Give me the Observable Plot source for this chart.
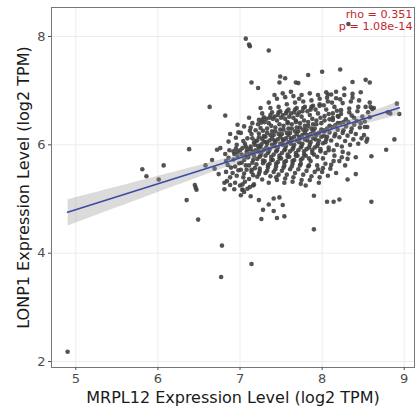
<!DOCTYPE html>
<html>
<head>
<meta charset="utf-8">
<script src="https://cdn.jsdelivr.net/npm/d3@7"></script>
<script src="https://cdn.jsdelivr.net/npm/@observablehq/plot@0.6"></script>
<style>
  html, body { margin: 0; padding: 0; background: white; }
</style>
</head>
<body>
<div id="chart"></div>
<script>
const xLabel = "MRPL12 Expression Level (log2 TPM)";
const yLabel = "LONP1 Expression Level (log2 TPM)";
const statLines = ["rho = 0.351", "p = 1.08e-14"];
const xTicks = [5, 6, 7, 8, 9];
const yTicks = [2, 4, 6, 8];

// MRPL12 (x) and LONP1 (y), grouped line by line
const mrpl12 = [
  4.90,5.81,5.86,6.01,6.07,6.38,6.35,6.45,6.46,6.47,6.49,6.58,6.63,6.78,6.77,
  7.14,6.82,7.07,7.11,7.12,7.35,7.14,7.22,7.49,7.55,7.48,7.68,7.71,7.83,8.00,
  8.22,8.37,8.53,8.58,8.32,8.91,8.94,8.88,8.78,8.60,8.60,8.55,8.41,8.31,8.21,
  8.14,8.06,7.90,7.90,7.54,7.45,7.26,7.28,7.35,7.41,7.48,7.52,7.41,7.23,7.13,
  7.03,7.05,7.09,7.16,7.00,6.81,6.74,6.69,6.66,6.72,6.76,6.88,6.97,7.12,7.23,
  8.61,8.63,8.80,8.83,8.52,8.58,
  6.81,6.83,6.85,6.86,6.88,6.82,6.87,6.84,6.89,6.86,6.83,6.88,
  6.91,6.92,6.93,6.94,6.95,6.96,6.97,6.98,6.99,6.92,6.94,6.96,6.98,6.93,6.97,6.95,
  7.01,7.02,7.03,7.04,7.05,7.06,7.07,7.08,7.09,7.01,7.03,7.05,7.07,7.09,7.02,7.04,7.06,7.08,7.00,7.05,7.03,7.07,7.09,7.01,
  7.11,7.12,7.13,7.14,7.15,7.16,7.17,7.18,7.19,7.11,7.13,7.15,7.17,7.19,7.12,7.14,7.16,7.18,7.10,7.15,7.13,7.17,7.19,7.11,7.14,7.16,
  7.21,7.22,7.23,7.24,7.25,7.26,7.27,7.28,7.29,7.21,7.23,7.25,7.27,7.29,7.22,7.24,7.26,7.28,7.20,7.25,7.23,7.27,7.29,7.21,7.24,7.26,7.22,7.28,7.25,7.27,7.23,7.29,
  7.31,7.32,7.33,7.34,7.35,7.36,7.37,7.38,7.39,7.31,7.33,7.35,7.37,7.39,7.32,7.34,7.36,7.38,7.30,7.35,7.33,7.37,7.39,7.31,7.34,7.36,7.32,7.38,7.35,7.37,7.33,7.39,7.30,7.36,
  7.41,7.42,7.43,7.44,7.45,7.46,7.47,7.48,7.49,7.41,7.43,7.45,7.47,7.49,7.42,7.44,7.46,7.48,7.40,7.45,7.43,7.47,7.49,7.41,7.44,7.46,7.42,7.48,7.45,7.47,7.43,7.49,7.40,7.46,7.44,7.42,
  7.51,7.52,7.53,7.54,7.55,7.56,7.57,7.58,7.59,7.51,7.53,7.55,7.57,7.59,7.52,7.54,7.56,7.58,7.50,7.55,7.53,7.57,7.59,7.51,7.54,7.56,7.52,7.58,7.55,7.57,7.53,7.59,7.50,7.56,7.54,7.52,7.58,7.51,
  7.61,7.62,7.63,7.64,7.65,7.66,7.67,7.68,7.69,7.61,7.63,7.65,7.67,7.69,7.62,7.64,7.66,7.68,7.60,7.65,7.63,7.67,7.69,7.61,7.64,7.66,7.62,7.68,7.65,7.67,7.63,7.69,7.60,7.66,7.64,7.62,7.68,7.61,
  7.71,7.72,7.73,7.74,7.75,7.76,7.77,7.78,7.79,7.71,7.73,7.75,7.77,7.79,7.72,7.74,7.76,7.78,7.70,7.75,7.73,7.77,7.79,7.71,7.74,7.76,7.72,7.78,7.75,7.77,7.73,7.79,7.70,7.76,7.74,7.72,
  7.81,7.82,7.83,7.84,7.85,7.86,7.87,7.88,7.89,7.81,7.83,7.85,7.87,7.89,7.82,7.84,7.86,7.88,7.80,7.85,7.83,7.87,7.89,7.81,7.84,7.86,7.82,7.88,7.85,7.87,7.83,7.89,7.80,7.86,
  7.91,7.92,7.93,7.94,7.95,7.96,7.97,7.98,7.99,7.91,7.93,7.95,7.97,7.99,7.92,7.94,7.96,7.98,7.90,7.95,7.93,7.97,7.99,7.91,7.94,7.96,7.92,7.98,7.95,7.97,
  8.01,8.02,8.03,8.04,8.05,8.06,8.07,8.08,8.09,8.01,8.03,8.05,8.07,8.09,8.02,8.04,8.06,8.08,8.00,8.05,8.03,8.07,8.09,8.01,8.04,8.06,8.02,8.08,
  8.11,8.12,8.13,8.14,8.15,8.16,8.17,8.18,8.19,8.11,8.13,8.15,8.17,8.19,8.12,8.14,8.16,8.18,8.10,8.15,8.13,8.17,8.19,8.11,
  8.21,8.22,8.23,8.24,8.25,8.26,8.27,8.28,8.29,8.21,8.23,8.25,8.27,8.29,8.22,8.24,8.26,8.28,8.20,8.25,
  8.31,8.32,8.33,8.34,8.35,8.36,8.37,8.38,8.39,8.31,8.33,8.35,8.37,8.39,8.32,8.36,
  8.41,8.42,8.43,8.44,8.45,8.46,8.47,8.48,8.49,8.41,8.44,8.47,
  8.51,8.52,8.53,8.55,8.56,8.58,8.59,8.54
];
const lonp1 = [
  2.18,5.55,5.42,5.36,5.62,5.92,4.98,5.26,5.21,5.17,4.62,5.62,6.70,4.14,3.56,
  3.80,6.54,7.96,7.85,7.82,7.74,7.15,7.05,7.26,7.23,7.15,7.15,7.14,7.29,7.35,
  7.39,7.16,7.20,7.15,8.23,6.76,6.57,6.10,5.91,5.79,4.95,6.11,5.46,5.36,4.99,
  4.95,4.95,5.06,4.44,4.68,4.65,4.63,4.80,4.90,5.01,5.03,4.89,4.78,4.98,5.05,
  5.17,5.13,5.19,5.25,5.25,5.30,5.46,5.56,5.72,5.91,5.94,6.20,6.37,6.26,6.46,
  6.66,6.68,6.60,6.58,6.33,6.51,
  5.18,5.50,5.63,5.76,5.40,5.83,5.90,5.33,5.58,6.06,5.70,5.26,
  5.48,5.73,5.83,5.60,5.93,5.43,5.78,6.23,5.66,5.88,5.30,6.00,5.53,5.18,5.86,6.13,
  5.54,5.82,5.94,5.40,5.72,6.02,5.62,5.87,6.12,6.22,5.27,5.47,5.97,5.77,5.67,6.07,5.32,5.54,5.90,6.34,5.17,5.80,5.92,5.07,
  5.62,5.84,5.97,5.50,6.12,5.72,6.04,5.57,6.27,5.37,5.92,6.40,5.80,5.90,5.22,6.20,5.44,6.00,5.77,5.67,6.32,5.27,6.07,6.50,5.54,5.87,
  5.74,5.98,6.14,5.56,6.31,5.86,6.46,5.66,6.06,5.41,6.21,5.81,6.58,5.91,6.38,5.51,6.01,6.26,5.64,6.68,5.94,5.36,6.16,6.08,5.78,6.41,5.88,5.71,5.96,6.11,5.46,6.51,
  5.80,6.05,6.22,5.62,6.40,5.92,6.55,5.72,6.12,5.48,6.30,5.88,6.68,6.00,6.48,5.58,6.08,6.35,5.70,6.78,6.02,5.42,6.25,6.15,5.85,6.50,5.95,5.78,5.30,6.18,5.52,6.60,6.42,5.65,
  5.82,6.08,6.25,5.65,6.45,5.95,6.60,5.75,6.15,5.50,6.32,5.90,6.70,6.02,6.52,5.60,6.10,6.38,5.72,6.85,6.05,5.45,6.28,6.18,5.88,6.55,5.98,5.80,5.35,6.20,5.55,6.62,6.48,5.68,5.40,6.92,
  5.85,6.10,6.28,5.68,6.48,5.98,6.62,5.78,6.18,5.52,6.35,5.92,6.75,6.05,6.55,5.62,6.12,6.40,5.75,6.88,6.08,5.45,6.30,6.20,5.90,6.58,6.00,5.82,5.38,6.22,5.58,6.65,6.50,5.70,5.30,6.95,6.42,6.02,
  5.88,6.12,6.30,5.70,6.50,6.00,6.65,5.80,6.20,5.55,6.38,5.95,6.78,6.08,6.58,5.65,6.15,6.42,5.78,6.90,6.10,5.48,6.32,6.22,5.92,6.60,6.02,5.85,5.40,6.25,5.60,6.68,6.52,5.72,5.32,6.98,6.45,6.05,
  5.90,6.15,6.32,5.72,6.52,6.02,6.68,5.82,6.22,5.55,6.40,5.98,6.80,6.10,6.60,5.65,6.18,6.45,5.80,6.92,6.12,5.45,6.35,6.25,5.95,6.62,6.05,5.88,5.35,6.28,5.62,6.70,6.55,5.75,5.28,6.85,
  5.92,6.18,6.35,5.75,6.55,6.05,6.70,5.85,6.25,5.52,6.42,6.00,6.82,6.12,6.62,5.62,6.20,6.48,5.80,6.95,6.15,5.42,6.38,6.28,5.95,6.65,6.08,5.90,5.35,6.30,5.60,6.72,5.25,5.70,
  5.95,6.20,6.38,5.78,6.58,6.08,6.72,5.88,6.28,5.50,6.45,6.02,6.85,6.15,6.65,5.62,6.22,6.50,5.82,6.92,6.18,5.40,6.40,6.30,5.98,5.30,6.10,5.92,5.55,6.75,
  6.03,6.27,6.45,5.85,6.65,6.15,6.80,5.95,6.35,5.57,6.53,6.10,6.93,6.23,6.73,5.65,6.30,6.57,5.50,6.97,6.25,5.43,6.47,5.75,6.05,6.87,6.17,5.90,
  6.08,6.33,6.50,5.90,6.70,6.20,6.86,6.00,6.40,5.63,6.58,6.16,6.98,6.28,6.78,5.70,6.36,6.63,5.56,5.80,6.46,5.48,6.53,6.93,
  6.14,6.40,6.57,5.97,6.77,6.27,6.92,6.07,6.47,5.70,6.64,6.22,7.04,6.34,6.84,5.77,6.42,5.62,6.52,5.87,
  6.17,6.42,6.60,6.00,6.80,6.30,6.94,6.10,6.50,5.74,6.67,6.24,6.87,6.37,5.84,6.54,
  6.20,6.44,6.62,6.02,6.82,6.32,6.97,6.12,6.52,5.77,6.70,6.40,
  6.18,6.43,6.70,6.33,6.60,6.78,6.70,6.06
];

const data = mrpl12.map((x, i) => ({x, y: lonp1[i]}));

const chart = Plot.plot({
  width: 415,
  height: 408,
  marginLeft: 51,
  marginTop: 7,
  marginRight: 1,
  marginBottom: 41,
  style: {fontFamily: "DejaVu Sans", fontSize: "13px", color: "#4d4d4d", background: "white"},
  x: {domain: [4.704, 9.125]},
  y: {domain: [1.89, 8.535]},
  marks: [
    Plot.gridX(xTicks, {stroke: "#ececec", strokeOpacity: 1, strokeWidth: 1}),
    Plot.gridY(yTicks, {stroke: "#ececec", strokeOpacity: 1, strokeWidth: 1}),
    Plot.dot(data, {x: "x", y: "y", r: 2.3, fill: "#404040", stroke: "none", fillOpacity: 0.9}),
    Plot.linearRegressionY(data, {x: "x", y: "y", stroke: "#3a4ba3", strokeWidth: 1.6, fill: "#999999", fillOpacity: 0.35}),
    Plot.frame({stroke: "#777777", strokeWidth: 1}),
    Plot.axisX({ticks: xTicks, tickFormat: "d", tickSize: 3, tickPadding: 3, label: null, fontSize: 13}),
    Plot.axisY({ticks: yTicks, tickFormat: "d", tickSize: 3, tickPadding: 3, label: null, fontSize: 13}),
    Plot.text([xLabel], {frameAnchor: "bottom", textAnchor: "middle", lineAnchor: "middle", dy: 30, fontSize: 16, fill: "#1a1a1a"}),
    Plot.text([yLabel], {frameAnchor: "left", textAnchor: "middle", lineAnchor: "middle", rotate: -90, dx: -28, fontSize: 16, fill: "#1a1a1a"}),
    Plot.text([statLines[0]], {frameAnchor: "top-right", lineAnchor: "top", textAnchor: "end", dx: -2, dy: 3, fontSize: 11.2, fill: "#c0282d"}),
    Plot.text([statLines[1]], {frameAnchor: "top-right", lineAnchor: "top", textAnchor: "end", dx: -2, dy: 15, fontSize: 11.2, fill: "#c0282d"})
  ]
});
document.getElementById("chart").appendChild(chart);
</script>
</body>
</html>
